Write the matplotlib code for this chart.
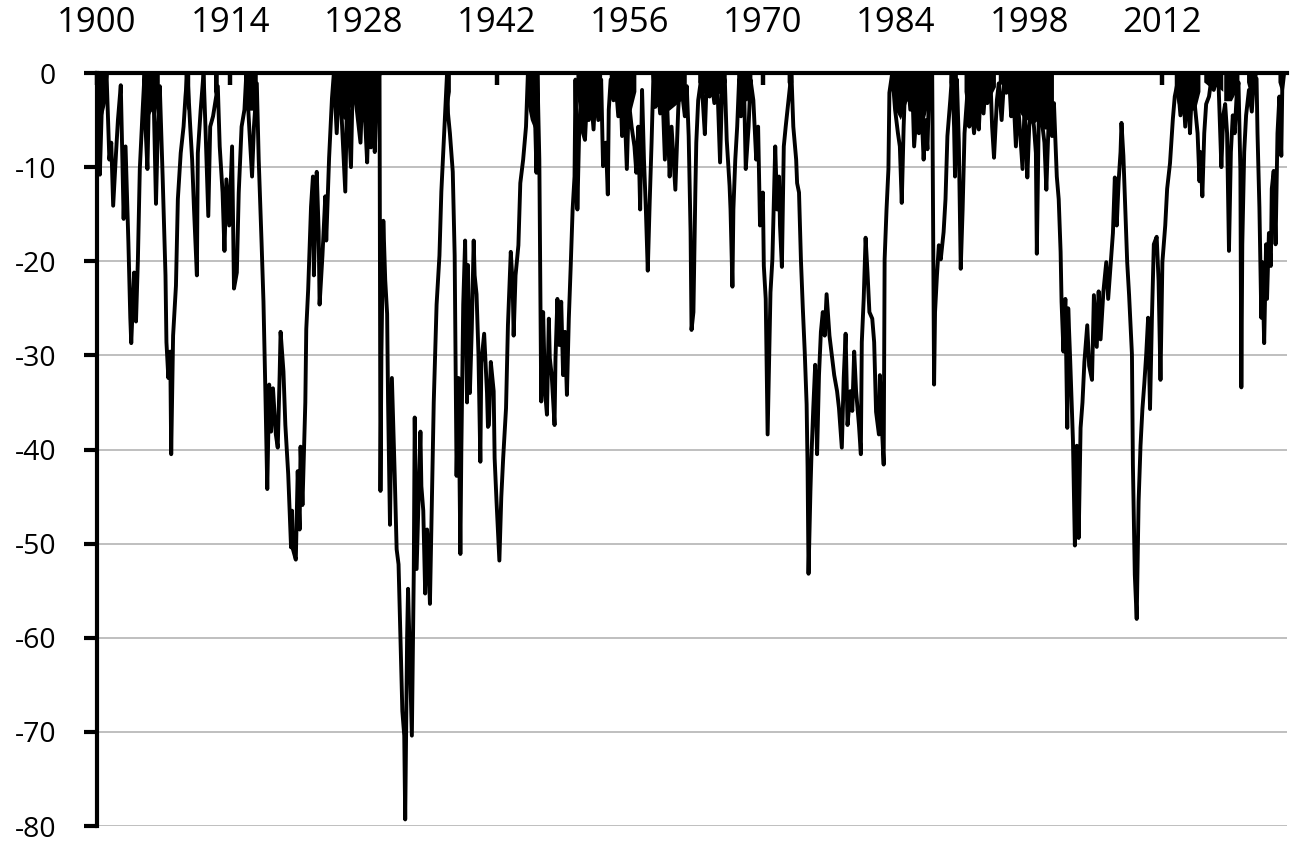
import numpy as np
import matplotlib
matplotlib.use('Agg')
matplotlib.rc('font', family=['Open Sans', 'DejaVu Sans'])
matplotlib.rc('axes', unicode_minus=False)
import matplotlib.pyplot as plt

# drawdown from previous peak (%), one block per era
years_a = [1900.2, 1900.3, 1900.5, 1900.7, 1900.8, 1901.0, 1901.3, 1901.5, 1901.7, 1902.0,
           1902.2, 1902.5, 1902.8, 1903.0, 1903.3, 1903.5, 1903.6, 1903.9, 1904.1, 1904.3,
           1904.5, 1904.8, 1905.0, 1905.1, 1905.3, 1905.5, 1905.7, 1905.9, 1906.2, 1906.4,
           1906.6, 1906.9, 1907.2, 1907.3, 1907.5, 1907.7, 1907.8, 1908.0, 1908.3, 1908.5,
           1908.8, 1909.1, 1909.3, 1909.5, 1909.8, 1910.0, 1910.2, 1910.5, 1910.6, 1910.9,
           1911.2, 1911.4, 1911.7, 1911.9, 1912.2, 1912.7, 1912.9, 1913.2, 1913.4, 1913.6,
           1913.9, 1914.2, 1914.4, 1914.7, 1914.9, 1915.2, 1915.5, 1915.7, 1916.0, 1916.3,
           1916.5, 1916.8, 1917.0, 1917.3, 1917.5, 1917.7, 1917.9, 1918.1, 1918.3, 1918.5,
           1918.8, 1919.0, 1919.2, 1919.3, 1919.6, 1919.8, 1920.1, 1920.4]
dd_a = [0, -10.8, -3.9, 0, -2.9, 0, -9.2, -7.4, -14.1, -8.5,
        -5, -1.3, -15.5, -7.8, -18, -26, -28.7, -21.2, -26.4, -19.8,
        -10.2, -3.9, 0, -5.7, -10.2, -0.7, -3.9, 0, -13.9, -5.7,
        -1.4, -11, -21.5, -28.6, -32.4, -29.6, -40.5, -27.9, -22.6, -13.4,
        -8.5, -5.7, -2.5, 0, -5.7, -9.2, -14.5, -21.5, -8.5, -3.9,
        0, -5.7, -15.2, -5.7, -4.6, -1.4, -7.8, -12.7, -18.9, -11.3,
        -16.2, -7.8, -22.9, -21.2, -12.7, -5.7, -3.9, 0, -5.7, -11,
        -5.7, -1.1, -9.2, -18, -24.3, -33.8, -44.2, -33.1, -38.1, -33.5,
        -38.4, -39.8, -32.1, -27.5, -31.7, -37.4, -42.6, -50.4]

years_b = [1920.5, 1920.6, 1920.9, 1921.1, 1921.3, 1921.4, 1921.6, 1921.9, 1922.0, 1922.2,
           1922.5, 1922.7, 1922.8, 1923.1, 1923.3, 1923.4, 1923.7, 1924.0, 1924.1, 1924.4,
           1924.7, 1924.9, 1925.2, 1925.5, 1925.7, 1926.1, 1926.3, 1926.5, 1926.7, 1926.9,
           1927.3, 1927.7, 1927.9, 1928.2, 1928.4, 1928.6, 1928.8, 1929.1, 1929.2, 1929.4,
           1929.7, 1929.8, 1929.9, 1930.1, 1930.3, 1930.5, 1930.6, 1930.8, 1931.0, 1931.2,
           1931.3, 1931.5, 1931.7, 1931.9, 1932.0, 1932.1, 1932.3, 1932.4, 1932.6, 1932.7,
           1932.9, 1933.1, 1933.3, 1933.4, 1933.6, 1933.8, 1934.0, 1934.1, 1934.3, 1934.5,
           1934.7, 1934.8, 1935.0, 1935.2, 1935.4, 1935.7, 1936.0, 1936.2, 1936.5, 1936.8,
           1936.9, 1937.1, 1937.4, 1937.6, 1937.8, 1938.0, 1938.2, 1938.3, 1938.5, 1938.7,
           1938.9, 1939.0, 1939.2, 1939.4, 1939.6, 1939.7, 1939.9, 1940.1, 1940.3, 1940.4,
           1940.7, 1941.0, 1941.1]
dd_b = [-46.5, -50.6, -51.7, -42.3, -48.5, -39.7, -45.9, -35, -27.2, -23,
        -14.2, -11, -21.5, -10.5, -16.8, -24.6, -19.4, -13.1, -17.8, -9,
        -2.7, 0, -6.4, 0, -4.3, -12.6, -1.7, -5.8, -10, 0,
        -3.8, -7.4, -1.7, -5.3, -9.5, -2.7, -7.9, -4.8, -8.4, -2.2,
        0, -44.4, -29.8, -15.7, -22, -25.6, -35, -48, -32.4, -39.2,
        -42.8, -50.6, -52.2, -60, -63.6, -67.8, -70.4, -79.3, -60, -54.8,
        -62.6, -70.4, -53.2, -36.6, -52.7, -45.4, -38.1, -43.9, -46.5, -55.3,
        -48.5, -50.1, -56.4, -45.4, -35, -24.6, -19.4, -12.6, -6.4, 0,
        -4.3, -6.4, -10.5, -19.4, -42.8, -32.4, -51.1, -40.2, -24.6, -17.8,
        -35, -20.4, -34, -27.2, -17.8, -21.5, -23.5, -29.8, -41.3, -30.8,
        -27.7, -34, -37.6]

years_c = [1941.2, 1941.4, 1941.7, 1941.8, 1942.0, 1942.3, 1942.5, 1942.7, 1943.0, 1943.2,
           1943.5, 1943.7, 1943.8, 1944.0, 1944.3, 1944.5, 1944.8, 1945.1, 1945.3, 1945.7,
           1946.0, 1946.2, 1946.3, 1946.5, 1946.7, 1946.9, 1947.1, 1947.3, 1947.5, 1947.6,
           1947.8, 1948.1, 1948.2, 1948.4, 1948.6, 1948.8, 1949.0, 1949.2, 1949.4, 1949.6,
           1949.8, 1950.0, 1950.2, 1950.3, 1950.5, 1950.7, 1950.9, 1951.1, 1951.3, 1951.5,
           1951.7, 1951.9, 1952.2, 1952.4, 1952.7, 1953.0, 1953.2, 1953.5, 1953.7, 1953.8,
           1954.0, 1954.3, 1954.5, 1954.8, 1955.0, 1955.2, 1955.4, 1955.7, 1955.9, 1956.2,
           1956.5, 1956.7, 1956.9, 1957.1, 1957.3, 1957.5, 1957.7, 1957.9, 1958.1, 1958.3,
           1958.5, 1958.7, 1958.9, 1959.2, 1959.4, 1959.7, 1959.9, 1960.2, 1960.4, 1960.8,
           1961.1, 1961.3, 1961.6]
dd_c = [-37.4, -30.7, -33.8, -40.9, -45.5, -51.8, -45.1, -40.9, -35.6, -26.8,
        -19, -22.6, -27.9, -21.5, -18.3, -11.7, -9.2, -5.7, 0, 0,
        -2.9, -10.6, 0, -9.2, -34.9, -25.4, -33.8, -36.3, -26.1, -30.3,
        -32.1, -37.4, -30.3, -24, -28.9, -24.3, -32.1, -27.5, -34.2, -26.1,
        -20.5, -14.5, -11, -0.7, -14.5, -5.7, -2.1, -6.4, -7.1, -2.9,
        -5, -2.1, -6, -1.8, -5, -0.7, -9.9, -7.4, -12.9, -3.9,
        -0.7, -2.9, -0.7, -4.6, -0.7, -6.7, -2.1, -10.2, -2.9, -5.7,
        -7.8, -10.6, -5.7, -14.5, -1.8, -9.2, -14.5, -21, -13.8, -7.4,
        0, -3.6, -0.7, -4.3, -0.7, -9.2, -2.1, -11, -5.7, -12.4,
        -3.9, -0.7, -2.9]

years_d = [1961.8, 1962.0, 1962.2, 1962.4, 1962.5, 1962.7, 1962.9, 1963.0, 1963.2, 1963.5,
           1963.7, 1963.9, 1964.1, 1964.4, 1964.6, 1964.9, 1965.2, 1965.5, 1965.7, 1966.0,
           1966.2, 1966.5, 1966.6, 1966.8, 1966.9, 1967.1, 1967.3, 1967.5, 1967.7, 1968.0,
           1968.2, 1968.5, 1968.7, 1969.0, 1969.3, 1969.5, 1969.7, 1970.0, 1970.1, 1970.3,
           1970.5, 1970.7, 1970.8, 1971.0, 1971.3, 1971.5, 1971.7, 1971.8, 1972.0, 1972.2,
           1972.4, 1972.7, 1973.0, 1973.2, 1973.5, 1973.6, 1973.8, 1974.0, 1974.2, 1974.4,
           1974.6, 1974.7, 1974.8, 1975.0, 1975.1, 1975.3, 1975.5, 1975.7, 1975.9, 1976.1,
           1976.3, 1976.5, 1976.7, 1977.0, 1977.2, 1977.5, 1977.8, 1978.0, 1978.3, 1978.5,
           1978.7, 1978.9, 1979.2, 1979.4, 1979.6, 1979.8, 1980.1, 1980.3, 1980.4, 1980.6,
           1980.8, 1981.0, 1981.2, 1981.5, 1981.7, 1981.9, 1982.2]
dd_d = [-4.6, -1.4, -6.7, -16.9, -27.3, -25.4, -12.7, -7.4, -2.9, -0.7,
        -3.2, -6.5, -0.7, -2.5, -0.7, -3.2, -0.7, -9.5, -2.1, -0.7,
        -7.1, -12, -14.5, -22.7, -14.5, -9.2, -5.7, -0.7, -4.6, -0.4,
        -10.2, -5.7, -0.7, -2.9, -9.2, -5.7, -16.2, -12.7, -20.5, -24,
        -38.4, -28.6, -23.3, -19.8, -7.8, -14.5, -11, -16.2, -20.6, -7.8,
        -5.7, -2.9, 0, -5.7, -9.2, -11.7, -12.7, -19.8, -25, -29.6,
        -35.2, -41.9, -53.2, -44.4, -40.9, -35.6, -31, -40.5, -32.1, -27.5,
        -25.4, -27.9, -23.5, -27.9, -29.6, -32.1, -33.8, -35.6, -39.8, -32.4,
        -27.7, -37.4, -33.8, -35.9, -29.6, -33.8, -37.4, -40.5, -28.6, -24,
        -17.5, -21.2, -25.4, -26.1, -28.6, -36, -38.4]

years_e = [1982.3, 1982.5, 1982.7, 1982.8, 1983.0, 1983.2, 1983.3, 1983.6, 1983.9, 1984.2,
           1984.4, 1984.6, 1984.8, 1984.9, 1985.2, 1985.5, 1985.7, 1985.9, 1986.2, 1986.4,
           1986.6, 1986.9, 1987.1, 1987.3, 1987.5, 1987.8, 1988.0, 1988.1, 1988.3, 1988.5,
           1988.7, 1989.0, 1989.2, 1989.4, 1989.7, 1989.9, 1990.1, 1990.2, 1990.4, 1990.6,
           1990.8, 1991.0, 1991.2, 1991.5, 1991.7, 1991.9, 1992.2, 1992.4, 1992.7, 1992.9,
           1993.2, 1993.4, 1993.6, 1993.9, 1994.1, 1994.3, 1994.6, 1994.8, 1995.1, 1995.4,
           1995.6, 1995.9, 1996.1, 1996.3, 1996.6, 1996.8, 1997.0, 1997.3, 1997.5, 1997.7,
           1997.8, 1998.0, 1998.2, 1998.5, 1998.7, 1998.8, 1999.0, 1999.2, 1999.4, 1999.6,
           1999.8, 2000.0, 2000.2, 2000.4, 2000.6, 2000.8, 2000.9, 2001.1, 2001.3, 2001.4,
           2001.6, 2001.8, 2002.0, 2002.1, 2002.3, 2002.6]
dd_e = [-32.1, -37.4, -41.6, -19.8, -14.5, -10.2, -2.1, 0, -3.9, -6.4,
        -7.8, -13.8, -5.7, -2.9, 0, -3.9, -1.1, -7.8, -3.6, -6.4,
        -2.1, -9.2, -5, -8.1, -0.7, 0, -33.1, -25.4, -21.5, -18.3,
        -19.8, -16.9, -13.4, -6.7, -2.9, 0, -5.7, -11, -0.7, -7.4,
        -20.8, -14.5, -6.4, -2.1, -5.7, -2.9, -6.4, -3.9, -6, -1.8,
        -4.3, -1.4, -3.2, 0, -5.7, -9, -2.9, -1.1, -5, 0,
        -2.1, -0.7, -4.6, -1.4, -7.8, -2.9, -5.7, -10.2, -3.9, -7.4,
        -11.1, -5.7, -3.2, -5.7, -8.5, -19.2, -5, -2.9, -5.7, -7.4,
        -12.4, -6.4, -1.1, -6.7, -3.2, -8.5, -11, -13.4, -19, -24.3,
        -29.6, -24, -37.7, -25, -30.3, -39.1]

years_f = [2002.8, 2003.0, 2003.1, 2003.2, 2003.4, 2003.6, 2003.8, 2004.1, 2004.3, 2004.6,
           2004.8, 2005.1, 2005.3, 2005.5, 2005.8, 2006.1, 2006.3, 2006.6, 2006.8, 2007.0,
           2007.2, 2007.4, 2007.6, 2007.7, 2007.9, 2008.1, 2008.3, 2008.5, 2008.8, 2008.9,
           2009.1, 2009.3, 2009.5, 2009.7, 2009.9, 2010.1, 2010.3, 2010.5, 2010.7, 2010.9,
           2011.1, 2011.4, 2011.6, 2011.8, 2012.0, 2012.3, 2012.5, 2012.8, 2013.1, 2013.3,
           2013.6, 2013.9, 2014.2, 2014.4, 2014.7, 2014.9, 2015.1, 2015.4, 2015.7, 2015.9,
           2016.0, 2016.2, 2016.4, 2016.6, 2016.9, 2017.1, 2017.4, 2017.7, 2017.9, 2018.2,
           2018.4, 2018.6, 2018.8, 2019.0, 2019.2, 2019.4, 2019.6, 2019.8, 2020.0, 2020.2,
           2020.3, 2020.4, 2020.6, 2020.8, 2021.1, 2021.4, 2021.6, 2021.9, 2022.0, 2022.2,
           2022.4, 2022.5, 2022.7, 2022.9, 2023.0, 2023.2, 2023.4, 2023.5, 2023.7, 2023.9,
           2024.1, 2024.3, 2024.5, 2024.6, 2024.8]
dd_f = [-50.2, -39.6, -41.6, -49.4, -37.7, -35, -30.7, -26.8, -31.1, -32.6,
        -23.6, -29.1, -23.2, -28.3, -23.2, -20.1, -24, -19.7, -17, -11.1,
        -16.2, -11.5, -8.4, -5.3, -8.8, -14.3, -20.1, -23.6, -29.9, -41.6,
        -53.3, -58, -45.5, -39.6, -35.7, -33, -29.9, -26, -35.7, -26,
        -18.2, -17.4, -22.1, -32.6, -20.1, -16.2, -12.3, -9.6, -4.9, -2.5,
        -1, -4.5, -1.8, -5.7, -1, -6.4, -1.8, -3.3, -6.4, -11.5,
        -8.4, -13.1, -6.4, -3.3, -2.5, -1, -1.8, -0.6, -1, -10,
        -4.5, -3.3, -6.4, -18.9, -8.4, -4.5, -6.4, -2.5, -1, -10.4,
        -33.4, -18.2, -8.4, -4.5, -1.8, -4.1, -1, -0.6, -6.4, -14.3,
        -26, -20.1, -28.7, -18.2, -24, -17, -20.5, -12.3, -10.4, -18.2,
        -6.4, -2.5, -8.8, -1.8, 0]

# near-peak stretches where the weekly trace overlaps into a solid black band:
# lower edge of that band (nan separates stretches)
nan = float('nan')
band_years = [1900.2, 1900.5, 1901.0, nan,
              1904.9, 1905.3, 1905.8, 1906.1, 1906.6, nan,
              1909.2, 1909.5, 1909.8, nan,
              1911.0, 1911.2, 1911.4, nan,
              1912.3, 1912.6, 1912.8, nan,
              1915.5, 1916.0, 1916.5, 1916.9, nan,
              1924.8, 1925.3, 1926.0, 1926.5, 1927.0, 1927.5, 1928.0, 1928.5, 1929.0, 1929.5, 1929.7, nan,
              1936.6, 1936.9, 1937.2, nan,
              1945.2, 1945.6, 1946.0, 1946.4, nan,
              1950.4, 1950.8, 1951.5, 1952.0, 1952.6, 1953.1, nan,
              1953.9, 1954.5, 1955.0, 1955.6, 1956.2, 1956.7, nan,
              1958.5, 1959.0, 1959.6, 1960.2, 1960.8, 1961.4, 1962.0, nan,
              1963.2, 1964.0, 1965.0, 1965.8, 1966.2, nan,
              1967.3, 1967.8, 1968.4, 1968.9, nan,
              1972.6, 1972.9, 1973.2, nan,
              1983.4, 1984.0, 1984.5, 1985.2, 1985.8, 1986.4, 1987.0, 1987.5, 1987.8, nan,
              1989.6, 1990.0, 1990.5, nan,
              1991.2, 1991.6, 1992.2, 1992.8, 1993.4, 1994.0, 1994.5, nan,
              1994.8, 1995.4, 1996.0, 1996.6, 1997.2, 1997.8, 1998.4, 1999.0, 1999.6, 2000.2, 2000.6, nan,
              2013.3, 2013.8, 2014.4, 2015.0, 2015.5, 2016.0, nan,
              2016.4, 2017.0, 2017.8, 2018.4, nan,
              2018.5, 2019.3, 2019.8, 2020.1, nan,
              2020.9, 2021.4, 2022.0, nan,
              2024.2, 2024.5, 2024.8]
band_floor = [-6, -5, -3, nan,
              -2, -5, -4, -5, -2, nan,
              -2, -4, -3, nan,
              -2, -3, -2, nan,
              -2, -3, -2, nan,
              -2, -4, -4, -2, nan,
              -2, -4, -5, -4, -3, -5, -4, -5, -6, -4, -1, nan,
              -2, -4, -2, nan,
              -3, -5, -6, -4, nan,
              -2, -4.5, -5, -4.5, -4, -2, nan,
              -1.5, -3, -4, -4.5, -4, -2, nan,
              -1.5, -3, -4, -4, -3.5, -3, -2, nan,
              -1, -2.5, -2.5, -2, -1, nan,
              -1, -3, -3, -1, nan,
              -1, -2, -1, nan,
              -1, -4, -5, -3, -4, -4.5, -5, -3, -1, nan,
              -1, -3, -1, nan,
              -2, -5, -5.5, -4, -3, -2.5, -1.5, nan,
              -1, -1.5, -2.5, -3.5, -4.5, -5, -5.5, -5, -6, -6, -4, nan,
              -2, -4, -4.5, -4, -4, -2, nan,
              -1, -1.5, -1.5, -2, nan,
              -3, -3, -2, -1, nan,
              -1, -3, -1, nan,
              -1, -2, -1]

year_ticks = list(range(1900, 2013, 14))
dd_ticks = list(range(-80, 1, 10))


def main():
    years = np.concatenate([years_a, years_b, years_c, years_d, years_e, years_f])
    drawdown = np.concatenate([dd_a, dd_b, dd_c, dd_d, dd_e, dd_f])

    fig = plt.figure(figsize=(12.9, 8.41), dpi=100)
    ax = fig.add_axes([97 / 1290, 15 / 841, 1190 / 1290, 753 / 841])
    ax.fill_between(band_years, band_floor, 0, color='k', lw=0, zorder=3)
    ax.plot(years, drawdown, color='k', lw=2.8, zorder=3)
    ax.set_xlim(1900, 2025.1)
    ax.set_ylim(-80, 0)
    ax.set_xticks(year_ticks)
    ax.set_yticks(dd_ticks)
    ax.xaxis.tick_top()
    ax.tick_params(axis='x', direction='in', length=8.5, width=3.2, pad=24, labelsize=25)
    ax.tick_params(axis='y', direction='out', length=9.4, width=3, pad=20, labelsize=20.5)
    ax.yaxis.grid(True, color='#bfbfbf', lw=1.4)
    ax.set_axisbelow(True)
    ax.spines['right'].set_visible(False)
    ax.spines['bottom'].set_visible(False)
    ax.spines['top'].set_linewidth(3)
    ax.spines['left'].set_linewidth(3)
    fig.savefig('out.png', dpi=100)


if __name__ == '__main__':
    main()
